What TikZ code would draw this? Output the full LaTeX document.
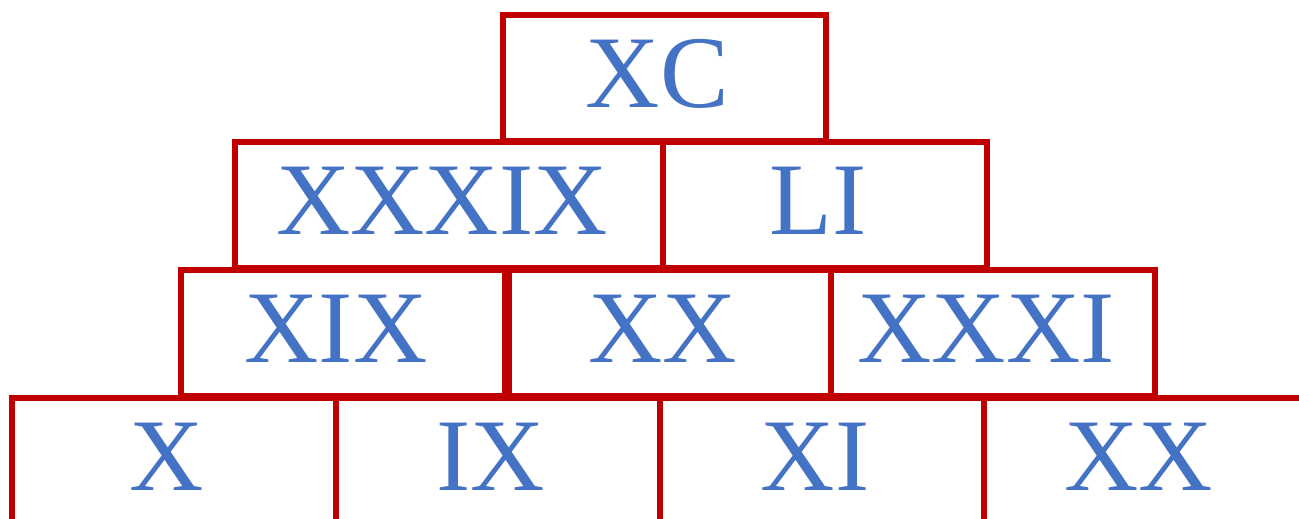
\documentclass[tikz,border=0pt]{standalone}
\usepackage{fontspec}
\setmainfont{Liberation Serif}
\definecolor{brickred}{HTML}{C00000}
\definecolor{numblue}{HTML}{4472C4}
\begin{document}
\begin{tikzpicture}[x=0.02cm, y=-0.02cm]
			\tikzset{
				brick/.style={draw=brickred, line width=0.12cm, rectangle, inner sep=0,
						minimum height={126*0.02cm}, minimum width={#1*0.02cm}},
				numeral/.style={text=numblue, inner sep=0, font=\fontsize{58.6}{60}\selectfont},
			}
			\clip (0,0) rectangle (1299,519);
			% rows from top to bottom: name / centre x / centre y / width / text
			\foreach \name/\cx/\cy/\w/\txt in {
					top/664.5/78/323/XC,
					midl/449/205/428/XXXIX, midr/825/205/324/LI,
					lowa/343/333/324/XIX, lowb/670/333/322/XX, lowc/993/333/324/XXXI,
					basea/174/461/324/X, baseb/498/461/324/IX, basec/822/461/324/XI, based/1146/461/324/XX}
				{
					\node[brick=\w] (\name) at (\cx,\cy) {};
					\node[numeral] (\name-num) at ([shift={(-7,-4)}]\name.center) {\txt};
				}
		\end{tikzpicture}
\end{document}
